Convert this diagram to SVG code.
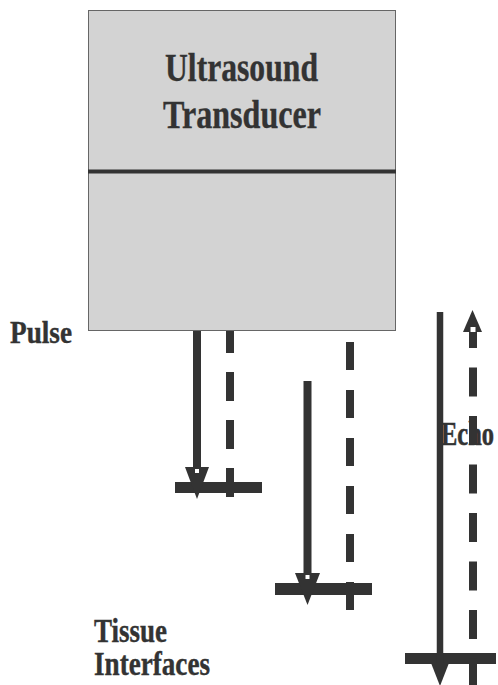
<svg xmlns="http://www.w3.org/2000/svg" width="498" height="685" viewBox="0 0 498 685">
<style>
.lbl{font-family:"Liberation Serif","Times New Roman",serif;font-weight:bold;fill:#333333;stroke:#333333;stroke-width:0.4}
.solid{stroke:#333333;fill:none}
.dash{stroke:#333333;fill:none;stroke-width:8}
.head{fill:#333333}
.hole{fill:#ffffff}
.bar{fill:#333333}
</style>
<rect width="498" height="685" fill="#ffffff"/>
<g id="transducer">
<rect x="88.5" y="10.5" width="307" height="320" fill="#d3d3d3" stroke="#666666" stroke-width="1"/>
<rect x="88" y="169.5" width="308" height="4" fill="#333333"/>
<text class="lbl" x="165" y="81" font-size="41" textLength="153" lengthAdjust="spacingAndGlyphs">Ultrasound</text>
<text class="lbl" x="163" y="128" font-size="41" textLength="158" lengthAdjust="spacingAndGlyphs">Transducer</text>
</g>
<g id="pulse-label">
<text class="lbl" x="10" y="343" font-size="32" textLength="62" lengthAdjust="spacingAndGlyphs">Pulse</text>
</g>
<g id="tissue-label">
<text class="lbl" x="94" y="642" font-size="33" textLength="73" lengthAdjust="spacingAndGlyphs">Tissue</text>
<text class="lbl" x="94" y="675" font-size="33" textLength="116" lengthAdjust="spacingAndGlyphs">Interfaces</text>
</g>
<g id="interface1">
<rect class="bar" x="175" y="482" width="87" height="11"/>
</g>
<g id="interface2">
<rect class="bar" x="275" y="583" width="97" height="12"/>
</g>
<g id="interface3">
<rect class="bar" x="405" y="653" width="91" height="11"/>
</g>
<g id="connectors">
<line class="solid" x1="197" y1="331" x2="197" y2="468" stroke-width="8"/>
<polygon class="head" points="185,467 209,467 197,499"/>
<rect class="hole" x="195" y="469" width="4" height="4"/>
<line class="dash" x1="230" y1="331" x2="230" y2="500" stroke-dasharray="29 19" stroke-dashoffset="7"/>
<line class="solid" x1="307.5" y1="381" x2="307.5" y2="574" stroke-width="8"/>
<polygon class="head" points="295,573 320,573 307.5,605"/>
<rect class="hole" x="305.5" y="575" width="4" height="4"/>
<line class="dash" x1="350" y1="342" x2="350" y2="610" stroke-dasharray="28 20"/>
<line class="solid" x1="440" y1="312" x2="440" y2="664" stroke-width="6.5"/>
<polygon class="head" points="431,663 449,663 440,686"/>
<line class="dash" x1="473" y1="332" x2="473" y2="685" stroke-dasharray="29 19.5" stroke-dashoffset="13"/>
<polygon class="head" points="463,332 482,332 472.5,310"/>
<rect class="hole" x="470.5" y="327" width="5" height="5"/>
</g>
<g id="echo-label">
<text class="lbl" transform="translate(441,445) scale(1,1.36)" x="0" y="0" font-size="25" textLength="53" lengthAdjust="spacingAndGlyphs">Echo</text>
</g>
</svg>
